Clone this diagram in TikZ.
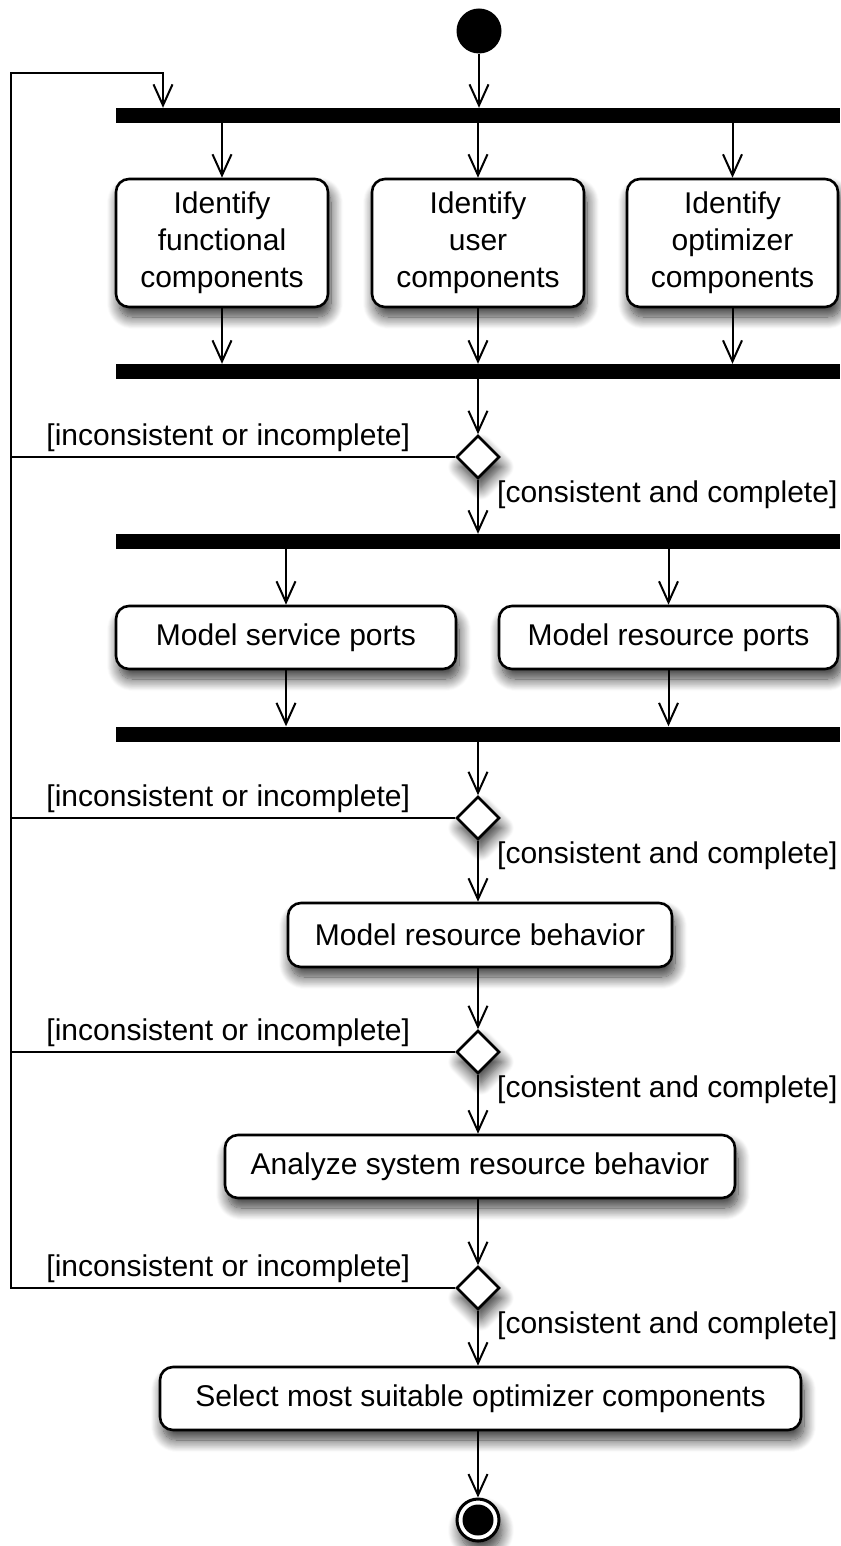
\documentclass[tikz,border=0pt]{standalone}
\usepackage{fontspec}
\setmainfont{Liberation Sans}
\usetikzlibrary{shapes.geometric,arrows.meta,shadows.blur}
\begin{document}
\begin{tikzpicture}[x=1pt,y=-1pt,
  every node/.style={font=\fontsize{30}{37}\selectfont},
  shad/.style={blur shadow={shadow xshift=3pt, shadow yshift=-10pt, shadow blur radius=12pt, shadow blur steps=14, shadow opacity=80}},
  act/.style={draw, line width=2.6pt, rounded corners=13pt, fill=white, align=center, inner sep=0pt, shad},
  bar/.style={fill=black, inner sep=0pt, minimum width=724pt, minimum height=15pt},
  dec/.style={diamond, draw, line width=2.6pt, fill=white, inner sep=0pt, minimum width=43pt, minimum height=43pt, shad},
  arr/.style={line width=2pt, -{Straight Barb[length=21pt, width=19pt, line width=2pt]}},
  conn/.style={line width=2pt},
  guardl/.style={anchor=base east, inner sep=0pt},
  guardr/.style={anchor=base west, inner sep=0pt}
]
\useasboundingbox (0,0) rectangle (840,1546);

% start
\node[circle, fill=black, minimum size=45pt, inner sep=0pt] (start) at (479,31) {};

% bars
\node[bar] (b1) at (478,115.5) {};
\node[bar] (b2) at (478,371.5) {};
\node[bar] (b3) at (478,541.5) {};
\node[bar] (b4) at (478,734) {};

% activities
\node[act, minimum width=212pt, minimum height=128pt] (a1) at (222,243) {Identify\\functional\\components};
\node[act, minimum width=212pt, minimum height=128pt] (a2) at (478,243) {Identify\\user\\components};
\node[act, minimum width=211pt, minimum height=128pt] (a3) at (732.5,243) {Identify\\optimizer\\components};

\node[act, minimum width=340pt, minimum height=63pt] (m1) at (286,637.5) {Model service ports};
\node[act, minimum width=339pt, minimum height=63pt] (m2) at (668.5,637.5) {Model resource ports};

\node[act, minimum width=384pt, minimum height=64pt] (r1) at (480,935) {Model resource behavior};
\node[act, minimum width=510pt, minimum height=63pt] (r2) at (480,1166.5) {Analyze system resource behavior};
\node[act, minimum width=641pt, minimum height=63pt] (r3) at (480.5,1398.5) {Select most suitable optimizer components};

% decisions
\node[dec] (d1) at (478,457) {};
\node[dec] (d2) at (478,818) {};
\node[dec] (d3) at (478,1052) {};
\node[dec] (d4) at (478,1288) {};

% end
\node[circle, draw, line width=3pt, fill=white, minimum size=42pt, inner sep=0pt, shad] (end) at (478,1520) {};
\fill (end.center) circle (15.5);

% loop coordinates
\coordinate (L) at (11,73);
\coordinate (Lt) at (163,73);

% flows
\draw[arr] (start) -- (start |- b1.north);
\draw[arr] (a1.north |- b1.south) -- (a1.north);
\draw[arr] (a2.north |- b1.south) -- (a2.north);
\draw[arr] (a3.north |- b1.south) -- (a3.north);
\draw[arr] (a1.south) -- (a1.south |- b2.north);
\draw[arr] (a2.south) -- (a2.south |- b2.north);
\draw[arr] (a3.south) -- (a3.south |- b2.north);
\draw[arr] (d1.north |- b2.south) -- (d1.north);
\draw[arr] (d1.south) -- (d1.south |- b3.north);
\draw[arr] (m1.north |- b3.south) -- (m1.north);
\draw[arr] (m2.north |- b3.south) -- (m2.north);
\draw[arr] (m1.south) -- (m1.south |- b4.north);
\draw[arr] (m2.south) -- (m2.south |- b4.north);
\draw[arr] (d2.north |- b4.south) -- (d2.north);
\draw[arr] (d2.south) -- (d2.south |- r1.north);
\draw[arr] (d3.north |- r1.south) -- (d3.north);
\draw[arr] (d3.south) -- (d3.south |- r2.north);
\draw[arr] (d4.north |- r2.south) -- (d4.north);
\draw[arr] (d4.south) -- (d4.south |- r3.north);
\draw[arr] (end.north |- r3.south) -- (end.north);

% loop back
\draw[arr] (d4.west) -| (L) -- (Lt) -- (Lt |- b1.north);
\draw[conn] (d1.west) -- (d1.west -| L);
\draw[conn] (d2.west) -- (d2.west -| L);
\draw[conn] (d3.west) -- (d3.west -| L);

% guards
\foreach \d in {d1,d2,d3,d4}{
  \node[guardl] at ([xshift=-45pt, yshift=12pt]\d.west) {[inconsistent or incomplete]};
  \node[guardr] at ([xshift=19pt, yshift=-45pt]\d.center) {[consistent and complete]};
}
\end{tikzpicture}
\end{document}
